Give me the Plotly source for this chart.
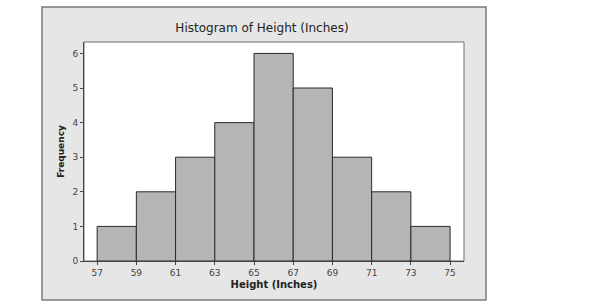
import plotly.graph_objects as go

bin_edges = [57, 59, 61, 63, 65, 67, 69, 71, 73, 75]
counts = [1, 2, 3, 4, 6, 5, 3, 2, 1]
x_ticks = [57, 59, 61, 63, 65, 67, 69, 71, 73, 75]
y_ticks = [0, 1, 2, 3, 4, 5, 6]

centers = [(a + b) / 2 for a, b in zip(bin_edges[:-1], bin_edges[1:])]
widths = [b - a for a, b in zip(bin_edges[:-1], bin_edges[1:])]

L, R, T, B = 84, 464, 42, 261
W, H = 600, 307
pw, ph = R - L, B - T

def px(x):
    return (x - L) / pw

def py(y):
    return (B - y) / ph

fig = go.Figure(go.Bar(
    x=centers, y=counts, width=widths,
    marker=dict(color="#b5b5b5", line=dict(color="#2a2a2a", width=1)),
    hoverinfo="skip",
))

fig.update_layout(
    width=W, height=H,
    margin=dict(l=L, r=W - R, t=T, b=H - B),
    paper_bgcolor="white", plot_bgcolor="rgba(0,0,0,0)",
    showlegend=False,
    font=dict(family="DejaVu Sans", color="#333333", size=9),
    title=dict(text="Histogram of Height (Inches)", x=px(262), xref="paper",
               xanchor="center", y=1 - 28 / H, yanchor="middle",
               font=dict(size=12, color="#222222")),
    shapes=[
        dict(type="rect", xref="paper", yref="paper", layer="below",
             x0=px(42), x1=px(486), y0=py(300), y1=py(7),
             fillcolor="#e6e6e6", line=dict(color="#7a7a7a", width=1.5)),
        dict(type="rect", xref="paper", yref="paper", layer="below",
             x0=0, x1=1, y0=0, y1=1,
             fillcolor="white", line=dict(color="#6e6e6e", width=1)),
    ],
    xaxis=dict(range=[56.33, 75.71], tickvals=x_ticks, ticks="outside", ticklen=3,
               tickcolor="#444444", showgrid=False, zeroline=False,
               showline=True, linecolor="#444444", linewidth=1,
               tickfont=dict(size=9, color="#444444"),
               title=dict(text="<b>Height (Inches)</b>", standoff=4,
                          font=dict(size=10, color="#222222"))),
    yaxis=dict(range=[0, 6.33], tickvals=y_ticks, ticks="outside", ticklen=3,
               tickcolor="#444444", showgrid=False, zeroline=False,
               showline=True, linecolor="#444444", linewidth=1,
               tickfont=dict(size=9, color="#444444"),
               title=dict(text="<b>Frequency</b>", standoff=6,
                          font=dict(size=9, color="#222222"))),
)

fig.write_html("out.html")
